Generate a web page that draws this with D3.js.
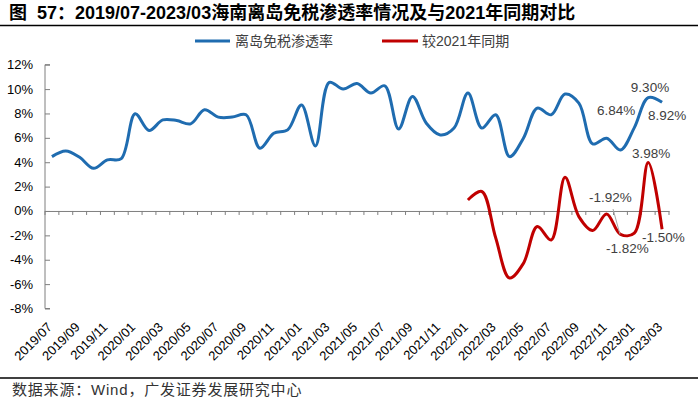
<!DOCTYPE html>
<html><head><meta charset="utf-8">
<script src="https://cdn.jsdelivr.net/npm/d3@7/dist/d3.min.js"></script>
<style>body{margin:0;background:#fff}svg{display:block}</style>
</head><body>
<script>
const months = ["2019/07","2019/08","2019/09","2019/10","2019/11","2019/12","2020/01","2020/02","2020/03","2020/04","2020/05","2020/06","2020/07","2020/08","2020/09","2020/10","2020/11","2020/12","2021/01","2021/02","2021/03","2021/04","2021/05","2021/06","2021/07","2021/08","2021/09","2021/10","2021/11","2021/12","2022/01","2022/02","2022/03","2022/04","2022/05","2022/06","2022/07","2022/08","2022/09","2022/10","2022/11","2022/12","2023/01","2023/02","2023/03"];
const penetration = [4.46,4.93,4.4,3.5,4.19,4.3,7.97,6.6,7.47,7.42,7.15,8.3,7.7,7.7,7.89,5.15,6.38,6.65,8.7,5.34,10.55,10.0,10.45,9.67,10.27,6.73,9.4,7.2,6.24,6.8,9.67,6.8,7.9,4.46,5.97,8.44,7.89,9.59,8.85,5.5,5.97,5.0,6.84,9.30,8.92];
const yoyMonths = months.slice(30);
const yoyChange = [0.9,1.6,-2.2,-5.5,-4.3,-1.28,-2.38,2.76,-0.46,-1.6,-0.25,-1.92,-1.82,3.98,-1.50];
const yTicks = [12,10,8,6,4,2,0,-2,-4,-6,-8];
const seriesNames = ["离岛免税渗透率","较2021年同期"];

const W=700,H=404;
const svg=d3.select("body").append("svg").attr("width",W).attr("height",H);
const font="Arial, 'Liberation Sans', 'Noto Sans CJK SC', sans-serif";
const cjk="'Noto Sans CJK SC', sans-serif";

// title
const t=svg.append("text").attr("y",19).attr("font-family","'Liberation Sans', Arial, 'Noto Sans CJK SC', sans-serif").attr("font-weight","bold")
  .attr("font-size",18).attr("fill","#000");
t.append("tspan").attr("x",9).text("图");
t.append("tspan").attr("x",37).text("57：2019/07-2023/03海南离岛免税渗透率情况及与2021年同期对比");
svg.append("line").attr("x1",0).attr("x2",698).attr("y1",25.5).attr("y2",25.5).attr("stroke","#000").attr("stroke-width",1.5);
svg.append("line").attr("x1",0).attr("x2",698).attr("y1",378).attr("y2",378).attr("stroke","#000").attr("stroke-width",1.5);
svg.append("text").attr("x",12).attr("y",395).attr("font-family","Arial, 'Liberation Sans', 'Noto Sans CJK SC', sans-serif")
  .attr("font-size",15).attr("letter-spacing",0.8).attr("fill","#333")
  .text("数据来源：Wind，广发证券发展研究中心");

const x=d3.scaleBand().domain(months).range([45,669]);
const y=d3.scaleLinear().domain([-8,12]).range([308.5,64.7]);
const cx=d=>x(d)+x.bandwidth()/2;

// y axis
const ya=svg.append("g").attr("transform","translate(45,0)")
  .call(d3.axisRight(y).tickValues(yTicks).tickSize(5).tickFormat(""));
ya.select(".domain").attr("stroke","#7f7f7f").attr("d","M5,64.7H0V308.5H5");
ya.selectAll(".tick line").attr("stroke","#7f7f7f");
svg.append("g").selectAll("text").data(yTicks).join("text")
  .attr("x",33).attr("y",d=>y(d)+4.5).attr("text-anchor","end")
  .attr("font-family",font).attr("font-size",13).attr("fill","#000").text(d=>d+"%");

// x axis at zero
const xa=svg.append("g").attr("transform",`translate(0,${y(0)})`)
  .call(d3.axisBottom(x).tickValues([]).tickSizeOuter(0));
xa.select(".domain").attr("stroke","#7f7f7f");
svg.append("g").selectAll("line").data(months.concat(["end"])).join("line")
  .attr("x1",(d,i)=>45+i*x.step()).attr("x2",(d,i)=>45+i*x.step())
  .attr("y1",y(0)).attr("y2",y(0)+4).attr("stroke","#7f7f7f");

// x labels
svg.append("g").selectAll("text").data(months.filter((d,i)=>i%2===0)).join("text")
  .attr("transform",d=>`translate(${cx(d)+1},${328}) rotate(-45)`)
  .attr("text-anchor","end").attr("font-family",font).attr("font-size",13).attr("fill","#000").text(d=>d);

// lines
const line=d3.line().curve(d3.curveCatmullRom.alpha(0.5));
svg.append("path").attr("d",line(months.map((m,i)=>[cx(m),y(penetration[i])])))
  .attr("fill","none").attr("stroke","#1f6cb0").attr("stroke-width",3);
svg.append("path").attr("d",line(yoyMonths.map((m,i)=>[cx(m),y(yoyChange[i])])))
  .attr("fill","none").attr("stroke","#c00000").attr("stroke-width",3);

// legend
const lg=svg.append("g");
lg.append("line").attr("x1",195).attr("x2",230).attr("y1",41).attr("y2",41).attr("stroke","#1f6cb0").attr("stroke-width",3);
lg.append("text").attr("x",235).attr("y",46).attr("font-family",font).attr("font-size",14).attr("fill","#404040").text(seriesNames[0]);
lg.append("line").attr("x1",382).attr("x2",418).attr("y1",41).attr("y2",41).attr("stroke","#c00000").attr("stroke-width",3);
lg.append("text").attr("x",422).attr("y",46).attr("font-family",font).attr("font-size",14).attr("fill","#404040").text(seriesNames[1]);

// annotations
const fmt=v=>v.toFixed(2)+"%";
const ann=[
 [penetration[43],650,92,"middle"],
 [penetration[44],648,120,"start"],
 [penetration[42],597,115,"start"],
 [yoyChange[13],632,158,"start"],
 [yoyChange[11],589,202,"start"],
 [yoyChange[12],606,253,"start"],
 [yoyChange[14],642,242,"start"]
];
svg.append("line").attr("x1",613).attr("y1",209).attr("x2",620).attr("y2",y(yoyChange[11])).attr("stroke","#a6a6a6").attr("stroke-width",1);
svg.append("g").selectAll("text").data(ann).join("text")
  .attr("x",d=>d[1]).attr("y",d=>d[2]).attr("text-anchor",d=>d[3])
  .attr("font-family",font).attr("font-size",13.5).attr("fill","#404040").text(d=>fmt(d[0]));
</script>
</body></html>
